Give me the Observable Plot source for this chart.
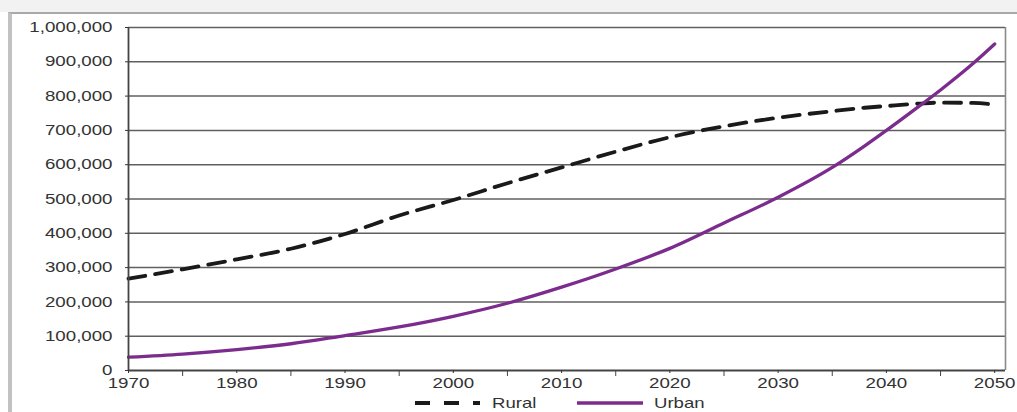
<!DOCTYPE html>
<html>
<head>
<meta charset="utf-8">
<script src="https://cdn.jsdelivr.net/npm/d3@7"></script>
<script src="https://cdn.jsdelivr.net/npm/@observablehq/plot@0.6"></script>
<style>
  html, body { margin: 0; padding: 0; background: #fff; width: 1017px; height: 412px; overflow: hidden; }
  #band { position: absolute; left: 0; top: 0; width: 1017px; height: 12px; background: #f2f2f2; }
  #frame { position: absolute; left: 8px; top: 12px; width: 1017px; height: 410px;
           border-left: 4px solid #c2c2c2; border-top: 2px solid #a9a9a9; }
  #chart { position: absolute; left: 0; top: 0; }
  #legend { position: absolute; left: 0; top: 394px; width: 1017px; height: 18px;
            font-family: "Liberation Sans", Arial, sans-serif; font-size: 14.5px; color: #333; }
  .lab { position: absolute; top: 0px; line-height: 18px; transform: scaleX(1.28); transform-origin: left center; }
</style>
</head>
<body>
<div id="band"></div>
<div id="frame"></div>
<div id="chart"></div>
<div id="legend">
  <svg style="position:absolute;left:0;top:0" width="1017" height="18">
    <line x1="415" x2="480" y1="9" y2="9" stroke="#1a1a1a" stroke-width="4" stroke-dasharray="15,14"></line>
    <line x1="577" x2="643" y1="9" y2="9" stroke="#7b2c8c" stroke-width="3.5"></line>
  </svg>
  <span class="lab" style="left:492px">Rural</span>
  <span class="lab" style="left:654px">Urban</span>
</div>
<script>
// Data
const years = [1970, 1975, 1980, 1985, 1990, 1995, 2000, 2005, 2010, 2015, 2020, 2025, 2030, 2035, 2038, 2040, 2043, 2045, 2048, 2050];
const rural = [268000, 295000, 324000, 355000, 398000, 452000, 497000, 546000, 592000, 638000, 680000, 712000, 737000, 756000, 766000, 771000, 778000, 781000, 780000, 775000];
const urban = [39000, 48000, 61000, 78000, 102000, 127000, 158000, 196000, 243000, 296000, 356000, 430000, 505000, 592000, 655000, 700000, 770000, 818000, 895000, 952000];
const yTicks = [0, 100000, 200000, 300000, 400000, 500000, 600000, 700000, 800000, 900000, 1000000];
const xMajor = [1970, 1980, 1990, 2000, 2010, 2020, 2030, 2040, 2050];
const xMinor = [1975, 1985, 1995, 2005, 2015, 2025, 2035, 2045];

const ruralData = years.map((y, i) => ({year: y, value: rural[i]}));
const urbanData = years.map((y, i) => ({year: y, value: urban[i]}));

const svg = Plot.plot({
  width: 1017,
  height: 392,
  marginLeft: 128,
  marginRight: 12,
  marginTop: 27,
  marginBottom: 22,
  style: {fontFamily: "'Liberation Sans', Arial, sans-serif", background: "transparent"},
  x: {domain: [1970, 2051]},
  y: {domain: [0, 1000000]},
  marks: [
    Plot.ruleY(yTicks.filter(d => d > 0), {stroke: "#606060", strokeWidth: 1.5}),
    Plot.ruleX([2051], {stroke: "#8a8a8a", strokeWidth: 1.6}),
    Plot.line(ruralData, {x: "year", y: "value", stroke: "#1a1a1a", strokeWidth: 3.8, strokeDasharray: "17,10", curve: "monotone-x"}),
    Plot.line(urbanData, {x: "year", y: "value", stroke: "#7b2c8c", strokeWidth: 3.3, curve: "monotone-x"}),
    Plot.ruleX([1970], {stroke: "#444", strokeWidth: 1.8}),
    Plot.ruleY([0], {stroke: "#444", strokeWidth: 1.8}),
    Plot.axisY({ticks: yTicks, tickFormat: d3.format(","), tickSize: 3, tickPadding: 13, fontSize: 14.5, color: "#333", label: null}),
    Plot.axisX({ticks: xMinor, tickSize: 6, tickFormat: () => "", color: "#444", label: null}),
    Plot.axisX({ticks: xMajor, tickSize: 3, tickPadding: 4, tickFormat: d => String(d), fontSize: 15, color: "#333", label: null})
  ]
});

function stretch(t, sx) {
  const tr = t.getAttribute("transform");
  if (tr) t.setAttribute("transform", tr + ` scale(${sx},1)`);
  else {
    const x = +t.getAttribute("x") || 0, y = +t.getAttribute("y") || 0;
    t.setAttribute("x", 0); t.setAttribute("y", 0);
    t.setAttribute("transform", `translate(${x},${y}) scale(${sx},1)`);
  }
}
svg.querySelectorAll('g[aria-label="y-axis tick label"] text').forEach(t => stretch(t, 1.29));
svg.querySelectorAll('g[aria-label="x-axis tick label"] text').forEach(t => stretch(t, 1.25));

document.getElementById("chart").appendChild(svg);
</script>
</body>
</html>
